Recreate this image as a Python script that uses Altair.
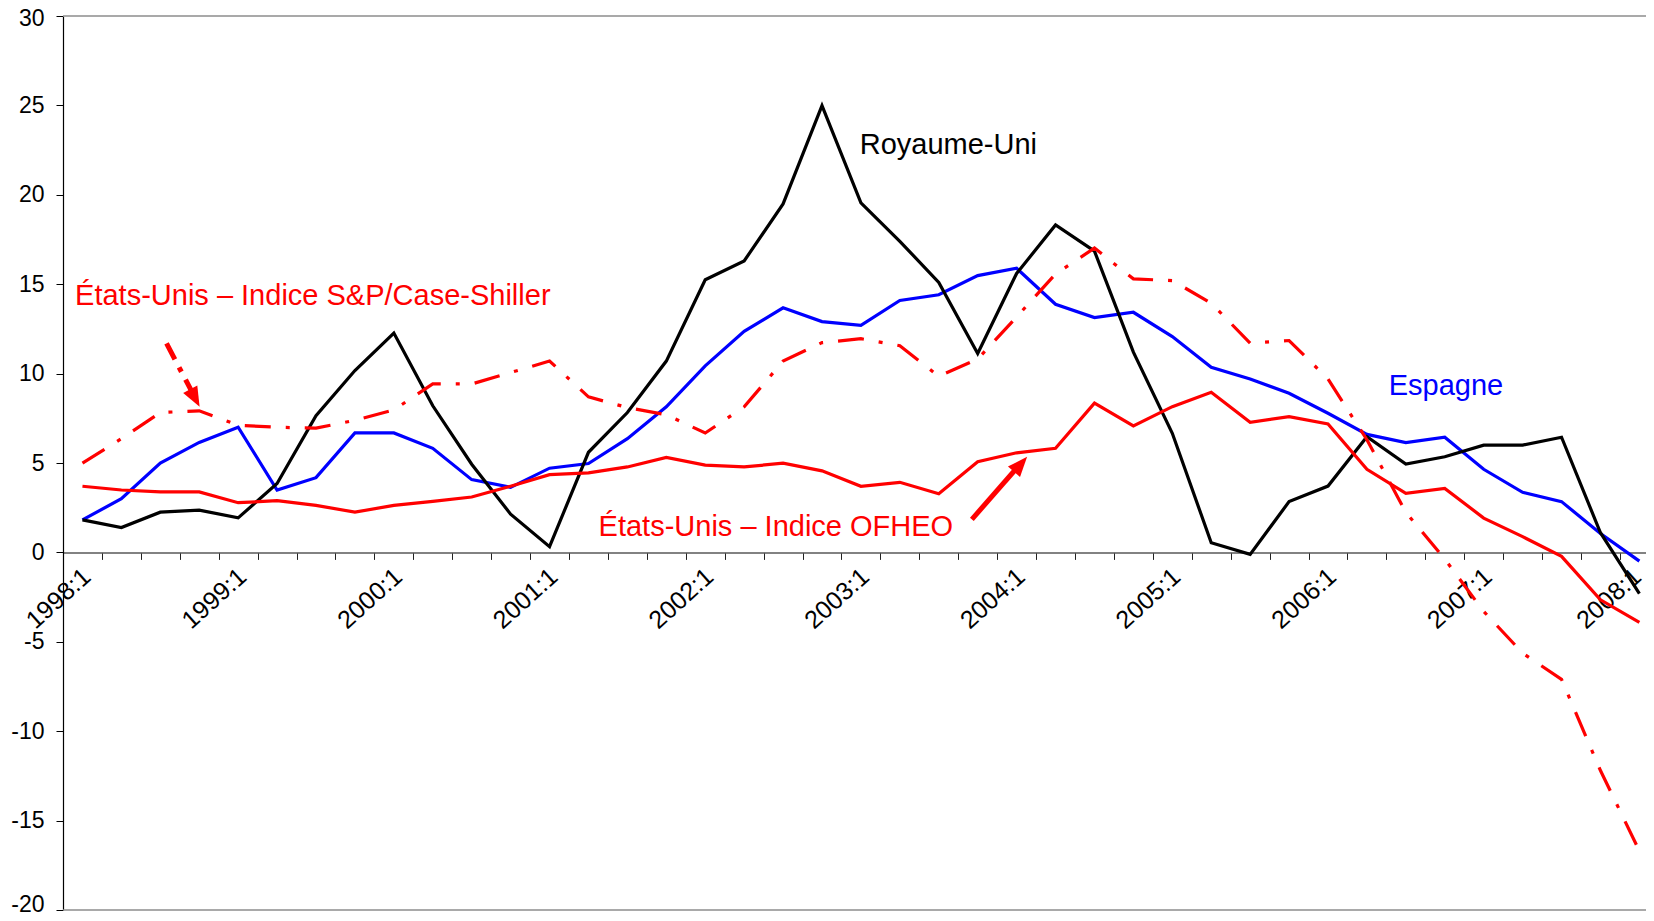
import json
import altair as alt
import pandas as pd

# ---------------- data ----------------
quarters = [f"{y}:{q}" for y in range(1998, 2009) for q in range(1, 5)][:41]
tick_label_every = 4

espagne = [1.82, 3.0, 4.99, 6.15, 7.0, 3.49, 4.18, 6.68, 6.68, 5.82,
           4.07, 3.64, 4.71, 4.97, 6.36, 8.14, 10.43, 12.36, 13.68, 12.91,
           12.7, 14.09, 14.41, 15.48, 15.89, 13.88, 13.13, 13.43, 12.07, 10.35,
           9.7, 8.9, 7.78, 6.6, 6.14, 6.44, 4.65, 3.36, 2.84, 1.06, -0.49]

royaume_uni = [1.82, 1.39, 2.25, 2.36, 1.93, 3.85, 7.64, 10.17, 12.27, 8.2,
               4.93, 2.14, 0.32, 5.6, 7.82, 10.7, 15.25, 16.3, 19.49, 24.99,
               19.55, 17.4, 15.1, 11.13, 15.6, 18.31, 16.85, 11.2, 6.66, 0.54,
               -0.11, 2.84, 3.71, 6.47, 4.94, 5.35, 6.0, 6.0, 6.44, 1.1, -2.3]

ofheo = [3.7, 3.49, 3.38, 3.38, 2.78, 2.89, 2.63, 2.25, 2.63, 2.85,
         3.1, 3.7, 4.35, 4.45, 4.78, 5.31, 4.88, 4.78, 4.99, 4.56,
         3.7, 3.92, 3.28, 5.07, 5.57, 5.82, 8.35, 7.07, 8.15, 8.96,
         7.28, 7.59, 7.18, 4.65, 3.3, 3.58, 1.92, 0.88, -0.22, -2.65, -3.92]

case_shiller = [4.99, 6.36, 7.82, 7.92, 7.11, 7.0, 6.95, 7.39, 7.97, 9.42,
                9.42, 10.06, 10.7, 8.7, 8.1, 7.7, 6.68, 8.14, 10.7, 11.73,
                11.95, 11.56, 9.85, 10.81, 13.17, 15.57, 17.02, 15.3, 15.2, 13.94,
                11.7, 11.85, 9.7, 6.3, 2.24, -0.37, -3.3, -5.63, -7.1, -12.2, -16.7]

y_ticks = [-20, -15, -10, -5, 0, 5, 10, 15, 20, 25, 30]

# annotations (data units: quarter index, percent)
ann_text = ["Royaume-Uni", "États-Unis – Indice S&P/Case-Shiller",
            "États-Unis – Indice OFHEO", "Espagne"]
ann_x = [19.97, -0.19, 13.26, 33.56]
ann_y = [22.3, 13.82, 0.91, 8.83]
ann_color = ["#000000", "#FF0000", "#FF0000", "#0000FF"]

# arrows: tail -> shaft end, tip
arrow_x = [2.16, 22.85]
arrow_y = [11.69, 1.85]
arrow_x2 = [2.80, 23.99]
arrow_y2 = [9.03, 4.68]
tip_x = [3.01, 24.27]
tip_y = [8.14, 5.35]
tip_angle = [152, 41]

# ---------------- chart ----------------
FONT = "Liberation Sans"
W, H = 1583, 894

xs = alt.Scale(domain=[-0.5, 40.17], nice=False, zero=False)
ys = alt.Scale(domain=[-20, 30], nice=False, zero=False)

label_arr = [q if i % tick_label_every == 0 else "" for i, q in enumerate(quarters)] + [""]
x_axis = alt.Axis(
    values=[i - 0.5 for i in range(41)],
    labelExpr=json.dumps(label_arr) + "[round(datum.value + 0.5)]",
    title=None, grid=False,
    offset=-(H * 0.4),
    domainColor="#595959", domainWidth=1.5,
    tickColor="#222222", tickSize=7, tickWidth=1,
    labelAngle=-42, labelAlign="right", labelBaseline="middle",
    labelOffset={"condition": {"test": "datum.value > 39", "value": 17}, "value": 23.5},
    labelPadding=13,
    labelFont=FONT, labelFontSize=25, labelColor="#000000",
    labelOverlap=False, labelFlush=False, labelBound=False,
)
y_axis = alt.Axis(
    values=y_ticks, title=None, grid=False,
    labelExpr="'' + datum.value",
    domainColor="#000000", domainWidth=1.2,
    tickColor="#000000", tickSize=7, tickWidth=1,
    labelFont=FONT, labelFontSize=23, labelColor="#000000", labelPadding=12,
    labelOffset={"condition": [{"test": "datum.value == -20", "value": -6},
                               {"test": "datum.value == 30", "value": 2.5}],
                 "value": 0},
    labelOverlap=False, labelFlush=False,
)


def X(field):
    return alt.X(field, type="quantitative", scale=xs, axis=x_axis)


def Y(field):
    return alt.Y(field, type="quantitative", scale=ys, axis=y_axis)


layers = []

borders = pd.DataFrame({"v": [30, -20]})
layers.append(alt.Chart(borders).mark_rule(color="#8c8c8c", strokeWidth=1.5).encode(y=Y("v")))

series = [
    ("Espagne", espagne, "#0000FF", None),
    ("Royaume-Uni", royaume_uni, "#000000", None),
    ("OFHEO", ofheo, "#FF0000", None),
    ("Case-Shiller", case_shiller, "#FF0000", [26, 15, 4, 15]),
]
for name, vals, col, dash in series:
    df = pd.DataFrame({"i": list(range(len(vals))), "v": vals, "q": quarters[:len(vals)]})
    kw = dict(color=col, strokeWidth=3.2, strokeJoin="miter", strokeCap="butt")
    if dash:
        kw["strokeDash"] = dash
    layers.append(alt.Chart(df).mark_line(**kw).encode(x=X("i"), y=Y("v"), order="i:Q"))

arrows = pd.DataFrame({"x": arrow_x, "y": arrow_y, "x2": arrow_x2, "y2": arrow_y2,
                       "kind": ["dash", "solid"]})
layers.append(
    alt.Chart(arrows[arrows.kind == "dash"]).mark_rule(
        color="#FF0000", strokeWidth=5, strokeDash=[18, 9, 5, 9], strokeCap="butt"
    ).encode(x=X("x"), y=Y("y"), x2="x2", y2="y2")
)
layers.append(
    alt.Chart(arrows[arrows.kind == "solid"]).mark_rule(
        color="#FF0000", strokeWidth=5, strokeCap="butt"
    ).encode(x=X("x"), y=Y("y"), x2="x2", y2="y2")
)
tips = pd.DataFrame({"x": tip_x, "y": tip_y, "a": tip_angle})
layers.append(
    alt.Chart(tips).mark_point(
        shape="M0,0L-0.8,2L0.8,2Z", filled=True, color="#FF0000", opacity=1, size=400
    ).encode(x=X("x"), y=Y("y"), angle=alt.Angle("a:Q", scale=None))
)

ann = pd.DataFrame({"t": ann_text, "x": ann_x, "y": ann_y, "c": ann_color})
layers.append(
    alt.Chart(ann).mark_text(
        align="left", baseline="alphabetic", font=FONT, fontSize=29
    ).encode(x=X("x"), y=Y("y"), text="t:N", color=alt.Color("c:N", scale=None))
)

chart = (
    alt.layer(*layers)
    .properties(
        width=W, height=H,
        autosize=alt.AutoSizeParams(type="none"),
        padding={"left": 55, "top": 8, "right": 0, "bottom": 3},
        background="white",
    )
    .configure_view(stroke=None)
)

chart.save("out.html", embed_options={"renderer": "svg", "actions": False})
